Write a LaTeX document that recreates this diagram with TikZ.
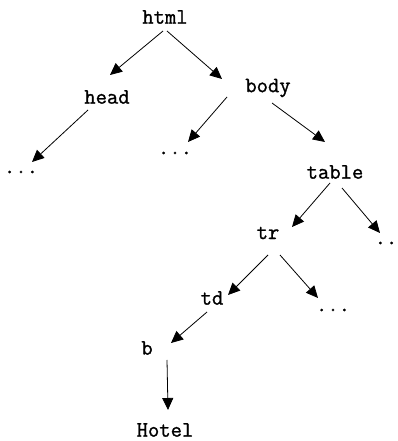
\documentclass[tikz,border=0pt]{standalone}
\usepackage{fontspec}
\newfontfamily\lblfont{Latin Modern Mono}[FakeBold=1.2]
\usetikzlibrary{arrows.meta,calc}
\begin{document}
\begin{tikzpicture}[x=1pt,y=1pt,
  lbl/.style={inner sep=0pt,font=\lblfont\fontsize{22}{22}\selectfont},
  arr/.style={line width=0.8pt,-{Triangle[length=12pt,width=11pt]}}]
\useasboundingbox (0,0) rectangle (398,441);
\node[lbl] (html)   at (165,424) {html};
\node[lbl] (head)   at (107,344) {head};
\node[lbl] (body)   at (268,353) {body};
\node[lbl] (dotsL)  at (21,269)  {...};
\node[lbl] (dotsM)  at (175,288) {...};
\node[lbl] (table)  at (335,269) {table};
\node[lbl] (tr)     at (268,208) {tr};
\node[lbl] (dotsR)  at (386,198) {..};
\node[lbl] (td)     at (212,143) {td};
\node[lbl] (dotsTR) at (333,131) {...};
\node[lbl] (b)      at (147,93)  {b};
\node[lbl] (hotel)  at (165,11)  {Hotel};
\draw[arr] ($(html)+(-2,-14)$) -- ($(head)+(3,22)$);
\draw[arr] ($(html)+(2,-14)$) -- ($(body)+(-46,9)$);
\draw[arr] ($(head)+(-19,-13)$) -- ($(dotsL)+(11,10)$);
\draw[arr] ($(body)+(-41,-9)$) -- ($(dotsM)+(13,11)$);
\draw[arr] ($(body)+(4,-15)$) -- ($(table)+(-10,30)$);
\draw[arr] ($(table)+(-5,-11)$) -- ($(tr)+(24,6)$);
\draw[arr] ($(table)+(7,-16)$) -- ($(dotsR)+(-6,10)$);
\draw[arr] ($(tr)+(0,-22)$) -- ($(td)+(16,3)$);
\draw[arr] ($(tr)+(12,-22)$) -- ($(dotsTR)+(-15,12)$);
\draw[arr] ($(td)+(-5,-14)$) -- ($(b)+(24,5)$);
\draw[arr] ($(b)+(20,-12)$) -- ($(hotel)+(3,20)$);
\end{tikzpicture}
\end{document}
